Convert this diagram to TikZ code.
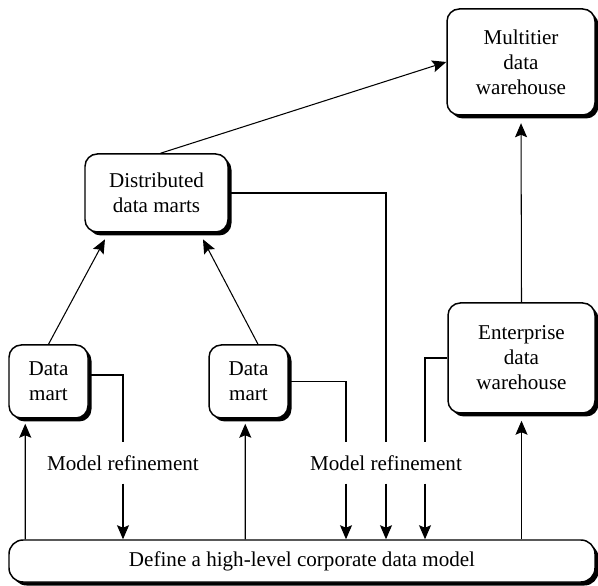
\documentclass[tikz,border=0pt]{standalone}
\usepackage{fontspec}
\setmainfont{Liberation Serif}
\usetikzlibrary{calc,arrows.meta,shadows}

\begin{document}
\begin{tikzpicture}[font=\fontsize{12}{14.2}\selectfont, line width=0.6pt,
      bx/.style={draw,fill=white,line width=0.85pt,rounded corners=7pt,align=center,
        drop shadow={opacity=1,fill=black,shadow xshift=0.07cm,shadow yshift=-0.07cm}},
      arr/.style={-{Stealth[length=2.8mm,width=2.4mm,inset=0.5mm]}}]
    \useasboundingbox (0,0) rectangle (11.96,11.70);
    \node[bx,minimum width=2.96cm,minimum height=2.12cm] (mdw) at (10.42,10.46) {Multitier\\data\\warehouse};
    \node[bx,minimum width=2.86cm,minimum height=1.56cm] (ddm) at (3.13,7.84) {Distributed\\data marts};
    \node[bx,minimum width=1.58cm,minimum height=1.46cm] (dm1) at (0.97,4.07) {Data\\mart};
    \node[bx,minimum width=1.58cm,minimum height=1.46cm] (dm2) at (4.97,4.07) {Data\\mart};
    \node[bx,minimum width=2.94cm,minimum height=2.2cm] (edw) at (10.43,4.54) {Enterprise\\data\\warehouse};
    \node[bx,rounded corners=8pt,minimum width=11.72cm,minimum height=0.84cm,
      drop shadow={opacity=1,fill=black,shadow xshift=0.04cm,shadow yshift=-0.04cm}] (base) at (6.04,0.48) {Define a high-level corporate data model};
    \node[minimum height=0.8cm] (mr1) at (2.46,2.44) {Model refinement};
    \node[minimum height=0.8cm] (mr2) at (7.72,2.44) {Model refinement};
    % upward flow
    \draw[arr] ($(ddm.north)+(0.08,0)$) -- (mdw.west);
    \draw[arr,shorten >=0.15cm] (dm1.north) -- ($(ddm.south)+(-0.96,0)$);
    \draw[arr,shorten >=0.15cm] ($(dm2.north)+(0.19,0)$) -- ($(ddm.south)+(0.86,0)$);
    \draw[arr,shorten >=0.15cm] (edw.north) -- (mdw.south);
    \draw[arr,shorten >=0.1cm] ($(base.north west)+(0.34,0)$) -- ($(dm1.south west)+(0.34,0)$);
    \draw[arr,shorten >=0.1cm] ($(base.north west)+(4.74,0)$) -- ($(dm2.south west)+(0.74,0)$);
    \draw[arr,shorten >=0.14cm] (base.north -| edw.south) -- (edw.south);
    % model refinement
    \draw ($(dm1.east)+(0,0.13)$) -| (mr1.north);
    \draw[arr] (mr1.south) -- (mr1.south |- base.north);
    \draw (dm2.east) -| ($(mr2.north)+(-0.8,0)$);
    \draw (ddm.east) -| (mr2.north);
    \draw (edw.west) -| ($(mr2.north)+(0.78,0)$);
    \foreach \dx in {-0.8,0,0.78} {
      \path ($(mr2.south)+(\dx,0)$) coordinate (drop);
      \draw[arr] (drop) -- (drop |- base.north);
    }
  \end{tikzpicture}
\end{document}
